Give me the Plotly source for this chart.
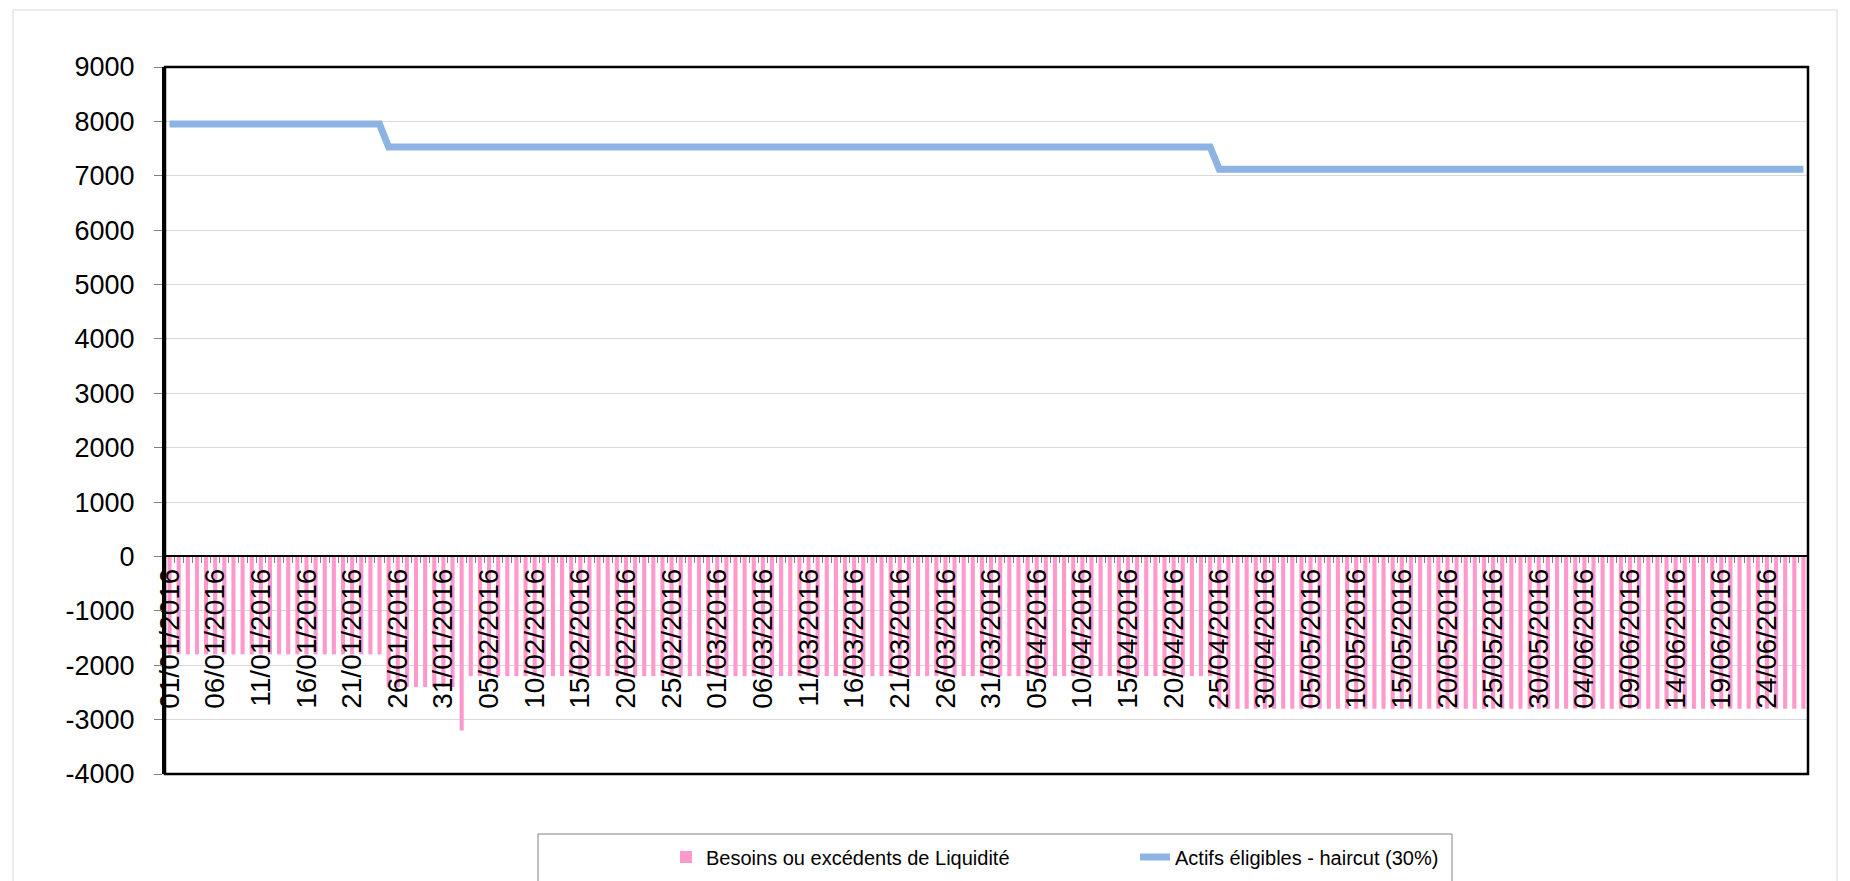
import pandas as pd
import plotly.graph_objects as go

# ---- data ----
dates = pd.date_range("2016-01-01", "2016-06-28", freq="D").strftime("%Y-%m-%d").tolist()

besoins = ([-1800] * 24 + [-2400] * 8 + [-3200] + [-2200] * 82 + [-2800] * 65)
actifs = ([7950] * 24 + [7530] * 91 + [7120] * 65)

y_ticks = [-4000, -3000, -2000, -1000, 0, 1000, 2000, 3000, 4000, 5000, 6000, 7000, 8000, 9000]
y_ticklabels = [str(v) for v in y_ticks]

bar_name = "Besoins ou excédents de Liquidité"
line_name = "Actifs éligibles - haircut (30%)"

FONT = "Liberation Sans, Arial, sans-serif"
DAY_MS = 86400000

fig = go.Figure()
fig.add_trace(go.Bar(x=dates, y=besoins, name=bar_name,
                     marker=dict(color="#ff99cc", line=dict(width=0))))
fig.add_trace(go.Scatter(x=dates, y=actifs, name=line_name, mode="lines",
                         line=dict(color="#8db3e2", width=7)))

OFF = 8  # page body margin
W, H = 1850 - OFF, 881 - OFF
L, R, T, B = 165 - OFF, 1808 - OFF, 67 - OFF, 774 - OFF
pw, ph = R - L, B - T


def px_x(p):
    p -= OFF
    return (p - L) / pw


def px_y(p):
    p -= OFF
    return (B - p) / ph


def cx(p):
    return (p - OFF) / W


def cy(p):
    return 1 - (p - OFF) / H


fig.update_layout(
    width=W, height=H,
    margin=dict(l=L, r=W - R, t=T, b=H - B, pad=0, autoexpand=False),
    paper_bgcolor="white", plot_bgcolor="white",
    bargap=0.55,
    font=dict(family=FONT, color="black"),
    showlegend=True,
    legend=dict(orientation="h", xref="container", yref="container",
                x=cx(666), y=cy(857), xanchor="left", yanchor="middle",
                font=dict(size=20, family=FONT, color="black"),
                entrywidth=424, bgcolor="rgba(0,0,0,0)", borderwidth=0),
    xaxis=dict(type="date", range=["2015-12-31 12:00", "2016-06-28 12:00"],
               anchor="free", position=4000 / 13000,
               tick0="2016-01-01", dtick=5 * DAY_MS, tickformat="%d/%m/%Y",
               tickangle=-90, ticks="", showgrid=False, zeroline=False,
               showline=True, linecolor="black", linewidth=2,
               tickfont=dict(size=28, family=FONT, color="black"),
               minor=dict(tick0="2015-12-31 12:00", dtick=DAY_MS, ticks="outside",
                          ticklen=6, tickcolor="#808080", tickwidth=1, showgrid=False)),
    yaxis=dict(range=[-4000, 9000], tickmode="array", tickvals=y_ticks, ticktext=y_ticklabels,
               showgrid=True, gridcolor="#d9d9d9",
               gridwidth=1, zeroline=False, showline=True, linecolor="black", linewidth=3,
               ticks="outside", ticklen=8, tickcolor="#808080", tickwidth=1,
               ticklabelstandoff=14,
               tickfont=dict(size=27, family=FONT, color="black")),
)

shapes = [
    # plot frame
    dict(type="rect", xref="paper", yref="paper", x0=0, x1=1, y0=0, y1=1,
         line=dict(color="black", width=2.5), layer="above"),
    # outer chart border
    dict(type="rect", xref="paper", yref="paper", x0=px_x(13), x1=px_x(1837),
         y0=px_y(900), y1=px_y(10), line=dict(color="#d9d9d9", width=1), layer="below"),
    # legend box
    dict(type="rect", xref="paper", yref="paper", x0=px_x(538), x1=px_x(1452),
         y0=px_y(900), y1=px_y(834), line=dict(color="#808080", width=1), layer="below"),
]
fig.update_layout(shapes=shapes)

fig.write_html("out.html")
